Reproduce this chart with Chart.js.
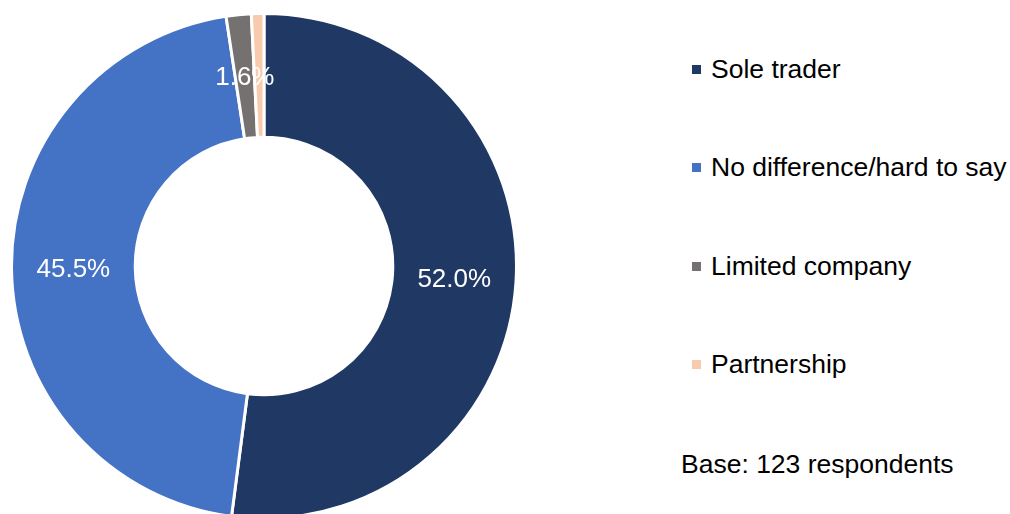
<!DOCTYPE html>
<html>
<head>
<meta charset="utf-8">
<script src="https://cdn.jsdelivr.net/npm/chart.js@4"></script>
<style>
  html, body { margin: 0; padding: 0; background: #fff; overflow: hidden; }
  body { width: 1010px; height: 514px; position: relative; font-family: "Liberation Sans", Arial, sans-serif; }
  #wrap { position: absolute; left: 10px; top: 12px; width: 508px; height: 508px; }
  #legend { position: absolute; left: 692px; top: 0; }
  .item { position: absolute; left: 0; white-space: nowrap; font-size: 26.5px; color: #000; line-height: 30px; height: 30px; }
  .item i { display: inline-block; width: 9px; height: 9px; margin-right: 10px; vertical-align: 4px; }
  #base { position: absolute; left: 681px; top: 449px; font-size: 26.5px; line-height: 30px; color: #000; white-space: nowrap; }
</style>
</head>
<body>
<div id="wrap"><canvas id="donut"></canvas></div>
<div id="legend"></div>
<div id="base">Base: 123 respondents</div>
<script>
// business type preference, share of respondents (%)
const categories = ['Sole trader', 'No difference/hard to say', 'Limited company', 'Partnership'];
const shares = [52.0, 45.5, 1.6, 0.8];
const colors = ['#203864', '#4472C4', '#767171', '#F8CBAD'];

// legend: one row per category, rows spaced evenly down the right side
const legendTops = [54, 152, 251, 349];
const legend = document.getElementById('legend');
categories.forEach((c, i) => {
  const row = document.createElement('div');
  row.className = 'item';
  row.style.top = legendTops[i] + 'px';
  row.innerHTML = `<i style="background:${colors[i]}"></i>${c}`;
  legend.appendChild(row);
});

// percentage labels in the middle of each ring segment (tiny ones skipped)
const sliceLabels = {
  id: 'sliceLabels',
  afterDatasetsDraw(chart) {
    const { ctx } = chart;
    const meta = chart.getDatasetMeta(0);
    ctx.save();
    ctx.font = '26px "Liberation Sans", Arial, sans-serif';
    ctx.fillStyle = '#fff';
    ctx.textAlign = 'center';
    ctx.textBaseline = 'middle';
    meta.data.forEach((arc, i) => {
      const v = shares[i];
      if (v < 1) return;
      const p = arc.tooltipPosition();
      ctx.fillText(v.toFixed(1) + '%', p.x, p.y + 2);
    });
    ctx.restore();
  }
};

new Chart(document.getElementById('donut'), {
  type: 'doughnut',
  data: {
    labels: categories,
    datasets: [{ data: shares, backgroundColor: colors, borderColor: '#fff', borderWidth: 3 }]
  },
  options: {
    responsive: true,
    maintainAspectRatio: false,
    animation: false,
    cutout: '51%',
    layout: { padding: 0 },
    plugins: { legend: { display: false }, tooltip: { enabled: false } }
  },
  plugins: [sliceLabels]
});
</script>
</body>
</html>
